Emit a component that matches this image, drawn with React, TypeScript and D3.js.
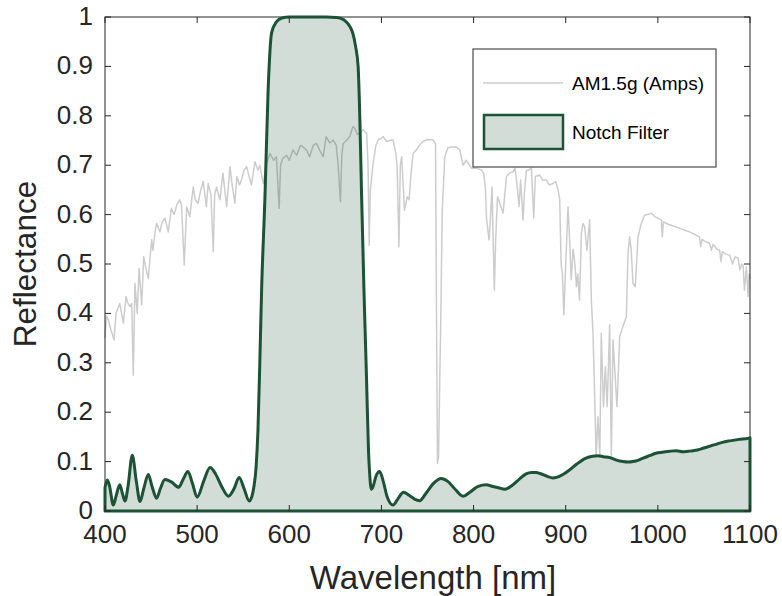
import React from "react";
import * as d3 from "d3";

// AM1.5g spectrum (normalised, as plotted)
const amWavelength = [400,401.5,403.6,406,409.8,412,416,418,420,422.8,425,427,429,430.7,432.5,435,437,439.8,442,444.5,447,450.6,452,454,456,459.7,462,465,468.7,472,475,478,481,483,486,488.6,492,495.8,498,501,504,506.6,510,512,515,517.5,519,521,524.7,528,532,535.6,538,541,543,546,548,551,553.7,556,559,562.7,566,568,571.7,575,579,583,586,589,590.5,593,597,600,604,608,612,615,619,622,626,629.6,633,636.8,640,644,647.6,651,653,655.5,657,658.5,662,665.7,669,671,674,676.6,680,682,684,685.5,686.7,688,691,694,696.5,700,702,705.5,709,712.7,715.6,717,719,720.5,722,725,728,730,732,734.4,738,741,745,750,756,758.7,759.7,760.8,762,763,764.5,766,768.8,772,776,781,785,788.6,792,797.7,803,808.6,811,813,814,816.8,818.5,820,822.5,824,826,829,832,835.7,839,843,845,847,849.4,851,853.7,855,857.3,860,862.8,865.3,867,871.8,875,879,882,886.2,889,891.7,893.5,895,896.4,898,900,902.5,904,906,908,910,911.6,913,915,917,918.8,920.6,923,926,927.8,929.6,931.5,933,935,937,938.6,941,943,945,947.7,949.5,951.3,953.5,955.6,958.6,962,965.8,967.6,969.4,971,973,975.5,978.5,982,985.7,989,993,997,1000,1003.8,1004.8,1006,1012,1020,1027,1034.5,1040,1045,1046.5,1048,1052,1056,1058,1060,1064,1067,1068.5,1070,1074,1078,1081,1084,1087,1089,1091,1092.5,1094,1096,1098,1099,1100];
const amValue = [0.350,0.395,0.387,0.37,0.346,0.400,0.420,0.40,0.380,0.434,0.42,0.414,0.42,0.275,0.461,0.400,0.491,0.417,0.515,0.49,0.471,0.549,0.528,0.56,0.582,0.565,0.585,0.593,0.565,0.613,0.60,0.62,0.630,0.620,0.498,0.616,0.596,0.656,0.63,0.623,0.65,0.667,0.616,0.663,0.64,0.525,0.64,0.656,0.630,0.684,0.616,0.697,0.66,0.623,0.677,0.66,0.670,0.69,0.697,0.68,0.660,0.707,0.69,0.70,0.663,0.70,0.724,0.71,0.717,0.613,0.70,0.714,0.72,0.71,0.731,0.72,0.74,0.737,0.73,0.717,0.74,0.744,0.73,0.717,0.758,0.745,0.751,0.74,0.70,0.626,0.72,0.744,0.75,0.758,0.778,0.775,0.762,0.765,0.772,0.768,0.765,0.70,0.538,0.65,0.704,0.74,0.751,0.755,0.758,0.748,0.75,0.751,0.724,0.70,0.535,0.70,0.717,0.609,0.636,0.630,0.68,0.724,0.731,0.74,0.748,0.752,0.751,0.744,0.42,0.096,0.11,0.231,0.4,0.609,0.717,0.735,0.737,0.737,0.731,0.700,0.71,0.694,0.694,0.690,0.684,0.65,0.593,0.549,0.60,0.656,0.447,0.55,0.636,0.62,0.603,0.677,0.684,0.687,0.694,0.663,0.616,0.67,0.589,0.64,0.690,0.69,0.694,0.593,0.677,0.680,0.67,0.670,0.66,0.663,0.667,0.650,0.63,0.50,0.481,0.397,0.50,0.616,0.56,0.468,0.53,0.50,0.454,0.48,0.427,0.562,0.582,0.575,0.528,0.589,0.427,0.36,0.225,0.110,0.191,0.110,0.360,0.211,0.292,0.211,0.377,0.110,0.346,0.279,0.211,0.353,0.373,0.393,0.522,0.555,0.53,0.461,0.454,0.555,0.582,0.599,0.60,0.603,0.595,0.593,0.589,0.555,0.585,0.58,0.575,0.57,0.565,0.56,0.555,0.535,0.55,0.545,0.542,0.528,0.54,0.53,0.528,0.505,0.525,0.52,0.518,0.50,0.515,0.512,0.488,0.50,0.498,0.447,0.494,0.434,0.48,0.47];

// Notch filter reflectance
const notchWavelength = [400,402.5,405,409,412,416,419,421.7,425,429.6,434,438,442,447,451,456,460,465,472,480,485,490,495,500,507,514,520,527,534,540,545.6,551,556.5,559.5,561.6,564,566,568,570,573.5,577,580.8,586,592,600,620,640,651,656,662,666,669,672,674.7,676.5,678.4,681,683.8,686,687,689,691,694,698,702,706,712.7,718,724,730,736,741.6,748,756,765,772,780,788.6,796,805,814,820,827,834,842,850,857,862.7,868,872,880,886,890,897,904,912,922,929,935,941,948,955,962,968,973,979,984,991,998,1005,1013,1020,1027,1033,1038,1044,1049,1056,1063,1070,1078,1088,1098,1100];
const notchValue = [0.047,0.063,0.05,0.012,0.03,0.053,0.035,0.02,0.05,0.113,0.06,0.019,0.045,0.074,0.05,0.026,0.045,0.064,0.059,0.048,0.065,0.080,0.055,0.028,0.06,0.088,0.075,0.048,0.030,0.045,0.068,0.045,0.020,0.03,0.049,0.09,0.164,0.3,0.45,0.63,0.85,0.968,0.99,0.998,1.0,1.0,1.0,0.999,0.997,0.99,0.98,0.967,0.94,0.9,0.8,0.644,0.45,0.27,0.12,0.083,0.044,0.05,0.07,0.080,0.06,0.03,0.012,0.025,0.038,0.032,0.024,0.021,0.035,0.055,0.066,0.06,0.044,0.030,0.038,0.05,0.053,0.05,0.047,0.044,0.052,0.065,0.075,0.078,0.078,0.076,0.07,0.067,0.068,0.074,0.083,0.095,0.107,0.111,0.112,0.11,0.108,0.103,0.100,0.099,0.100,0.103,0.107,0.112,0.117,0.119,0.121,0.122,0.120,0.121,0.122,0.124,0.127,0.131,0.135,0.139,0.142,0.145,0.147,0.148];

const xTicks = [400, 500, 600, 700, 800, 900, 1000, 1100];
const yTicks = [0, 0.1, 0.2, 0.3, 0.4, 0.5, 0.6, 0.7, 0.8, 0.9, 1];
const legendLabels = ["AM1.5g (Amps)", "Notch Filter"];
const xLabel = "Wavelength [nm]";
const yLabel = "Reflectance";

const W = 782, H = 596;
const L = 105, R = 750, T = 17, B = 511;
const GREEN = "#1c5236";
const FILL = "#d1ddd6";
const AXC = "#262626";
const FONT = "'Liberation Sans', Arial, Helvetica, sans-serif";

export default function App() {
  const x = d3.scaleLinear().domain([400, 1100]).range([L, R]);
  const y = d3.scaleLinear().domain([0, 1]).range([B, T]);

  const am = amWavelength.map((w, i) => [w, amValue[i]] as [number, number]);
  const notch = notchWavelength.map((w, i) => [w, notchValue[i]] as [number, number]);

  const amLine = d3.line<[number, number]>().x(d => x(d[0])).y(d => y(d[1]))(am) || "";
  const notchArea = d3.area<[number, number]>().x(d => x(d[0])).y0(y(0)).y1(d => y(d[1])).curve(d3.curveMonotoneX)(notch) || "";
  const notchLine = d3.line<[number, number]>().x(d => x(d[0])).y(d => y(d[1])).curve(d3.curveMonotoneX)(notch) || "";
  const closed = `${notchLine}L${x(1100)},${y(0)}L${x(400)},${y(0)}Z`;

  const tl = 6;
  return (
    <svg width={W} height={H} style={{ position: "absolute", left: 0, top: 0, background: "#fff" }} fontFamily={FONT}>
      <rect x={0} y={0} width={W} height={H} fill="#fff" />
      <rect x={L} y={T} width={R - L} height={B - T} fill="none" stroke={AXC} strokeWidth={1} />
      <path d={notchArea} fill={FILL} stroke="none" />
      <path d={amLine} fill="none" stroke="#000" strokeOpacity={0.2} strokeWidth={1.5} strokeLinejoin="round" />
      <path d={closed} fill="none" stroke={GREEN} strokeWidth={3} strokeLinejoin="round" />
      {xTicks.map(t => (
        <g key={"x" + t}>
          <line x1={x(t)} x2={x(t)} y1={B} y2={B - tl} stroke={AXC} strokeWidth={1} />
          <line x1={x(t)} x2={x(t)} y1={T} y2={T + tl} stroke={AXC} strokeWidth={1} />
          <text x={x(t)} y={B + 32} textAnchor="middle" fontSize={26} fill={AXC}>{t}</text>
        </g>
      ))}
      {yTicks.map(t => (
        <g key={"y" + t}>
          <line x1={L} x2={L + tl} y1={y(t)} y2={y(t)} stroke={AXC} strokeWidth={1} />
          <line x1={R} x2={R - tl} y1={y(t)} y2={y(t)} stroke={AXC} strokeWidth={1} />
          <text x={L - 12} y={y(t) + 8} textAnchor="end" fontSize={26} fill={AXC}>{String(t)}</text>
        </g>
      ))}
      <text x={433} y={589} textAnchor="middle" fontSize={33} fill={AXC}>{xLabel}</text>
      <text transform={`translate(36,${(T + B) / 2}) rotate(-90)`} textAnchor="middle" fontSize={31.5} fill={AXC}>{yLabel}</text>
      <g>
        <rect x={473} y={49} width={243} height={118} fill="#fff" stroke={AXC} strokeWidth={1} />
        <line x1={483} x2={563} y1={83} y2={83} stroke="#000" strokeOpacity={0.2} strokeWidth={1.5} />
        <text x={572} y={90} fontSize={19} fill="#000">{legendLabels[0]}</text>
        <rect x={484} y={115} width={79} height={34} fill={FILL} stroke={GREEN} strokeWidth={2.5} />
        <text x={572} y={139} fontSize={19} fill="#000">{legendLabels[1]}</text>
      </g>
    </svg>
  );
}
